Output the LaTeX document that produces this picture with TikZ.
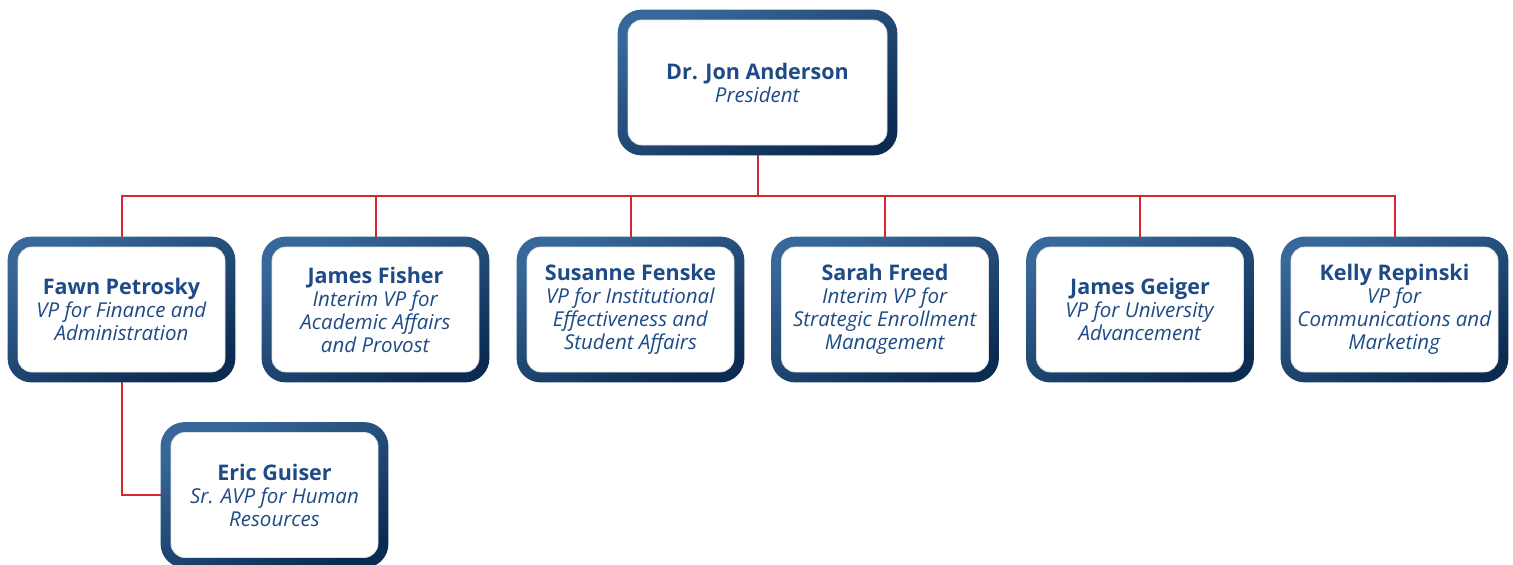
\documentclass[tikz,border=0pt]{standalone}
\usepackage{fontspec}
\setmainfont{Open Sans}
\definecolor{txt}{HTML}{1E4B85}
\definecolor{frmlt}{HTML}{386899}
\definecolor{frmdk}{HTML}{0B2B52}
\definecolor{conn}{HTML}{D9262E}
\pgfdeclarelayer{background}
\pgfsetlayers{background,main}
\tikzset{
  card/.style={fill=white, draw=black!12, line width=0.8pt, rounded corners=14pt,
    minimum width=207pt, minimum height=125pt, align=center, text=txt,
    inner sep=0pt, font=\fontsize{20.5}{23}\selectfont},
  widecard/.style={minimum width=259pt},
  link/.style={draw=conn, line width=2pt},
  frame/.style={rounded corners=24pt, top color=frmlt, bottom color=frmdk, shading angle=25}
}
\newcommand\pname[1]{{\fontsize{21.5}{23}\selectfont\bfseries #1}}
\newcommand\ptitle[1]{\textit{#1}}
\begin{document}
\begin{tikzpicture}[x=1pt,y=1pt]
\useasboundingbox (0,0) rectangle (1513,-565);
\node[card,widecard] (pres) at (757.5,-82.5) {\pname{Dr. Jon Anderson}\\\ptitle{President}};
\node[card] (fawn) at (121.5,-309.5) {\pname{Fawn Petrosky}\\\ptitle{VP for Finance and}\\\ptitle{Administration}};
\node[card] (fisher) at (375.5,-309.5) {\pname{James Fisher}\\\ptitle{Interim VP for}\\\ptitle{Academic Affairs}\\\ptitle{and Provost}};
\node[card] (fenske) at (630.5,-309.5) {\pname{Susanne Fenske}\\\ptitle{VP for Institutional}\\\ptitle{Effectiveness and}\\\ptitle{Student Affairs}};
\node[card] (freed) at (885,-309.5) {\pname{Sarah Freed}\\\ptitle{Interim VP for}\\\ptitle{Strategic Enrollment}\\\ptitle{Management}};
\node[card] (geiger) at (1140,-309.5) {\pname{James Geiger}\\\ptitle{VP for University}\\\ptitle{Advancement}};
\node[card] (rep) at (1394.5,-309.5) {\pname{Kelly Repinski}\\\ptitle{VP for}\\\ptitle{Communications and}\\\ptitle{Marketing}};
\node[card] (eric) at (274.5,-495) {\pname{Eric Guiser}\\\ptitle{Sr. AVP for Human}\\\ptitle{Resources}};
\coordinate (bus) at (0,-196);
\begin{pgfonlayer}{background}
  \foreach \n in {fawn,fisher,fenske,freed,geiger,rep}
    \draw[link] (pres.south) |- (bus -| \n.north) -- (\n.north);
  \draw[link] (fawn.south) |- (eric.west);
  \foreach \n in {pres,fawn,fisher,fenske,freed,geiger,rep,eric}
    \shade[frame] ([shift={(-10,10)}]\n.north west) rectangle ([shift={(10,-10)}]\n.south east);
\end{pgfonlayer}
\end{tikzpicture}
\end{document}
